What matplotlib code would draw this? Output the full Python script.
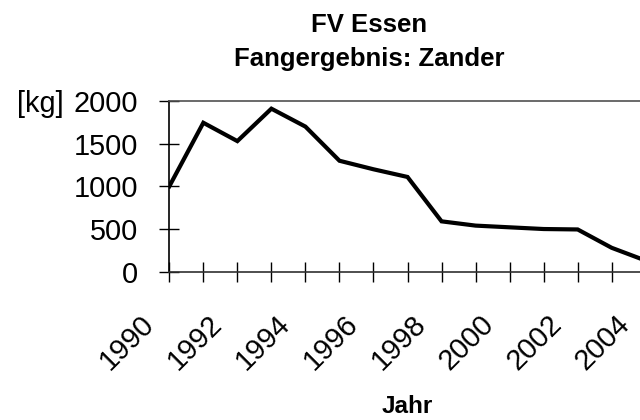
import numpy as np
import matplotlib
matplotlib.use('Agg')
import matplotlib.pyplot as plt
import matplotlib.transforms as mtransforms

plt.rcParams['font.family'] = ['Liberation Sans', 'DejaVu Sans']

# Fangergebnis Zander, FV Essen
years = [1990, 1991, 1992, 1993, 1994, 1995, 1996, 1997,
         1998, 1999, 2000, 2001, 2002, 2003, 2004]
catch_kg = [1000, 1745, 1530, 1910, 1700, 1300, 1200, 1110,
            590, 540, 520, 500, 495, 280, 130]
y_ticks = [0, 500, 1000, 1500, 2000]
x_labels = [str(y) if y % 2 == 0 else '' for y in years]

W, H = 640, 420
fig = plt.figure(figsize=(W / 100, H / 100), dpi=100)

# plot area runs a little past the right edge of the picture (cropped like the original)
x0, y0 = 169.3, 271.7
px_year = 34.03
px_h = 170.7
ax = fig.add_axes([x0 / W, (H - y0) / H, 14 * px_year / W, px_h / H])

ax.plot(years, catch_kg, color='black', lw=3.0, solid_joinstyle='miter')

ax.set_xlim(1990, 2004)
ax.set_ylim(0, 2000)
ax.set_yticks(y_ticks)
ax.set_xticks(years)
ax.set_xticklabels(x_labels, rotation=45, ha='right', va='top')

ax.spines['right'].set_visible(False)
ax.spines['top'].set_color('#505050')
ax.spines['bottom'].set_color('#303030')
ax.spines['left'].set_color('black')
for s in ax.spines.values():
    s.set_linewidth(1.2)

ax.tick_params(axis='both', direction='inout', length=14.4, width=1.0,
               colors='black', labelsize=20.8)
ax.tick_params(axis='y', pad=15)
ax.tick_params(axis='x', pad=20)

# shift rotated year labels to the left like in the original
off = mtransforms.ScaledTranslation(-10 / 100, 0, fig.dpi_scale_trans)
for lab in ax.get_xticklabels():
    lab.set_transform(lab.get_transform() + off)

fig.text(17 / W, 1 - 101 / H, '[kg]', ha='left', va='center_baseline', fontsize=20.8)

fig.text(369 / W, 1 - 31.7 / H, 'FV Essen', ha='center', va='baseline',
         fontsize=18.5, fontweight='bold')
fig.text(369 / W, 1 - 65.7 / H, 'Fangergebnis: Zander', ha='center', va='baseline',
         fontsize=18.5, fontweight='bold')
fig.text(407 / W, 1 - 413 / H, 'Jahr', ha='center', va='baseline',
         fontsize=17.5, fontweight='bold')

fig.savefig('out.png', dpi=100)
